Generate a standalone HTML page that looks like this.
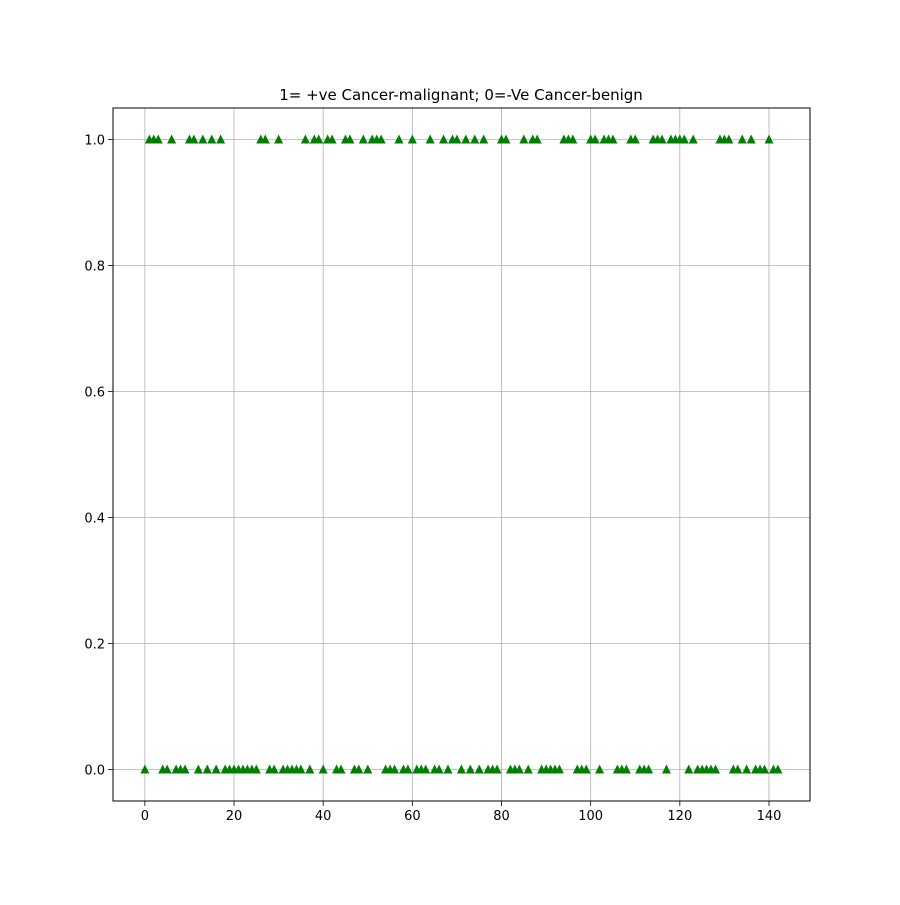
<!DOCTYPE html>
<html><head><meta charset="utf-8"><style>
body{margin:0;background:#fff;}
svg text{font-family:"DejaVu Sans","Liberation Sans",sans-serif;}
</style></head><body>
<svg id="chart" width="900" height="900" xmlns="http://www.w3.org/2000/svg">
<rect width="900" height="900" fill="#fff"/>
<g id="grid"></g>
<g id="marks"></g>
<g id="axes"></g>
<text x="461" y="100" text-anchor="middle" font-size="15">1= +ve Cancer-malignant; 0=-Ve Cancer-benign</text>
</svg>
<script>
const oneIndices=[1,2,3,6,10,11,13,15,17,26,27,30,36,38,39,41,42,45,46,49,51,52,53,57,60,64,67,69,70,72,74,76,80,81,85,87,88,94,95,96,100,101,103,104,105,109,110,114,115,116,118,119,120,121,123,129,130,131,134,136,140];
const sampleCount=143;
const xTicks=[0,20,40,60,80,100,120,140];
const yTicks=[0.0,0.2,0.4,0.6,0.8,1.0];
const L=113,R=810,T=108,B=801;
const xmin=-7.15,xmax=149.2,ymin=-0.05,ymax=1.05;
const sx=v=>L+(v-xmin)/(xmax-xmin)*(R-L);
const sy=v=>B-(v-ymin)/(ymax-ymin)*(B-T);
const NS="http://www.w3.org/2000/svg";
function mk(tag,attrs,parent){const e=document.createElementNS(NS,tag);for(const k in attrs)e.setAttribute(k,attrs[k]);parent.appendChild(e);return e;}
const grid=document.getElementById('grid'),marks=document.getElementById('marks'),axes=document.getElementById('axes');
xTicks.forEach(t=>{const x=sx(t);
const g=mk('line',{x1:x,x2:x,y1:T,y2:B,stroke:'#b0b0b0','stroke-width':0.8},grid);


mk('line',{x1:x,x2:x,y1:B,y2:B+5,stroke:'#000','stroke-width':0.8},axes);
const tx=mk('text',{x:x,y:B+19,'text-anchor':'middle','font-size':13},axes);tx.textContent=t;


});
yTicks.forEach(t=>{const y=sy(t);
const g=mk('line',{x1:L,x2:R,y1:y,y2:y,stroke:'#b0b0b0','stroke-width':0.8},grid);


mk('line',{x1:L-5,x2:L,y1:y,y2:y,stroke:'#000','stroke-width':0.8},axes);
const tx=mk('text',{x:L-8,y:y+5,'text-anchor':'end','font-size':13},axes);tx.textContent=t.toFixed(1);


});
const fr=mk('rect',{x:L,y:T,width:R-L,height:B-T,fill:'none',stroke:'#000','stroke-width':1},axes);


for(let i=0;i<sampleCount;i++){
const v=oneIndices.includes(i)?1:0;
const x=sx(i),y=sy(v);
const p=mk('polygon',{points:`${x},${y-5} ${x-4.5},${y+4} ${x+4.5},${y+4}`,fill:'#008000'},marks);


}
</script>
</body></html>
